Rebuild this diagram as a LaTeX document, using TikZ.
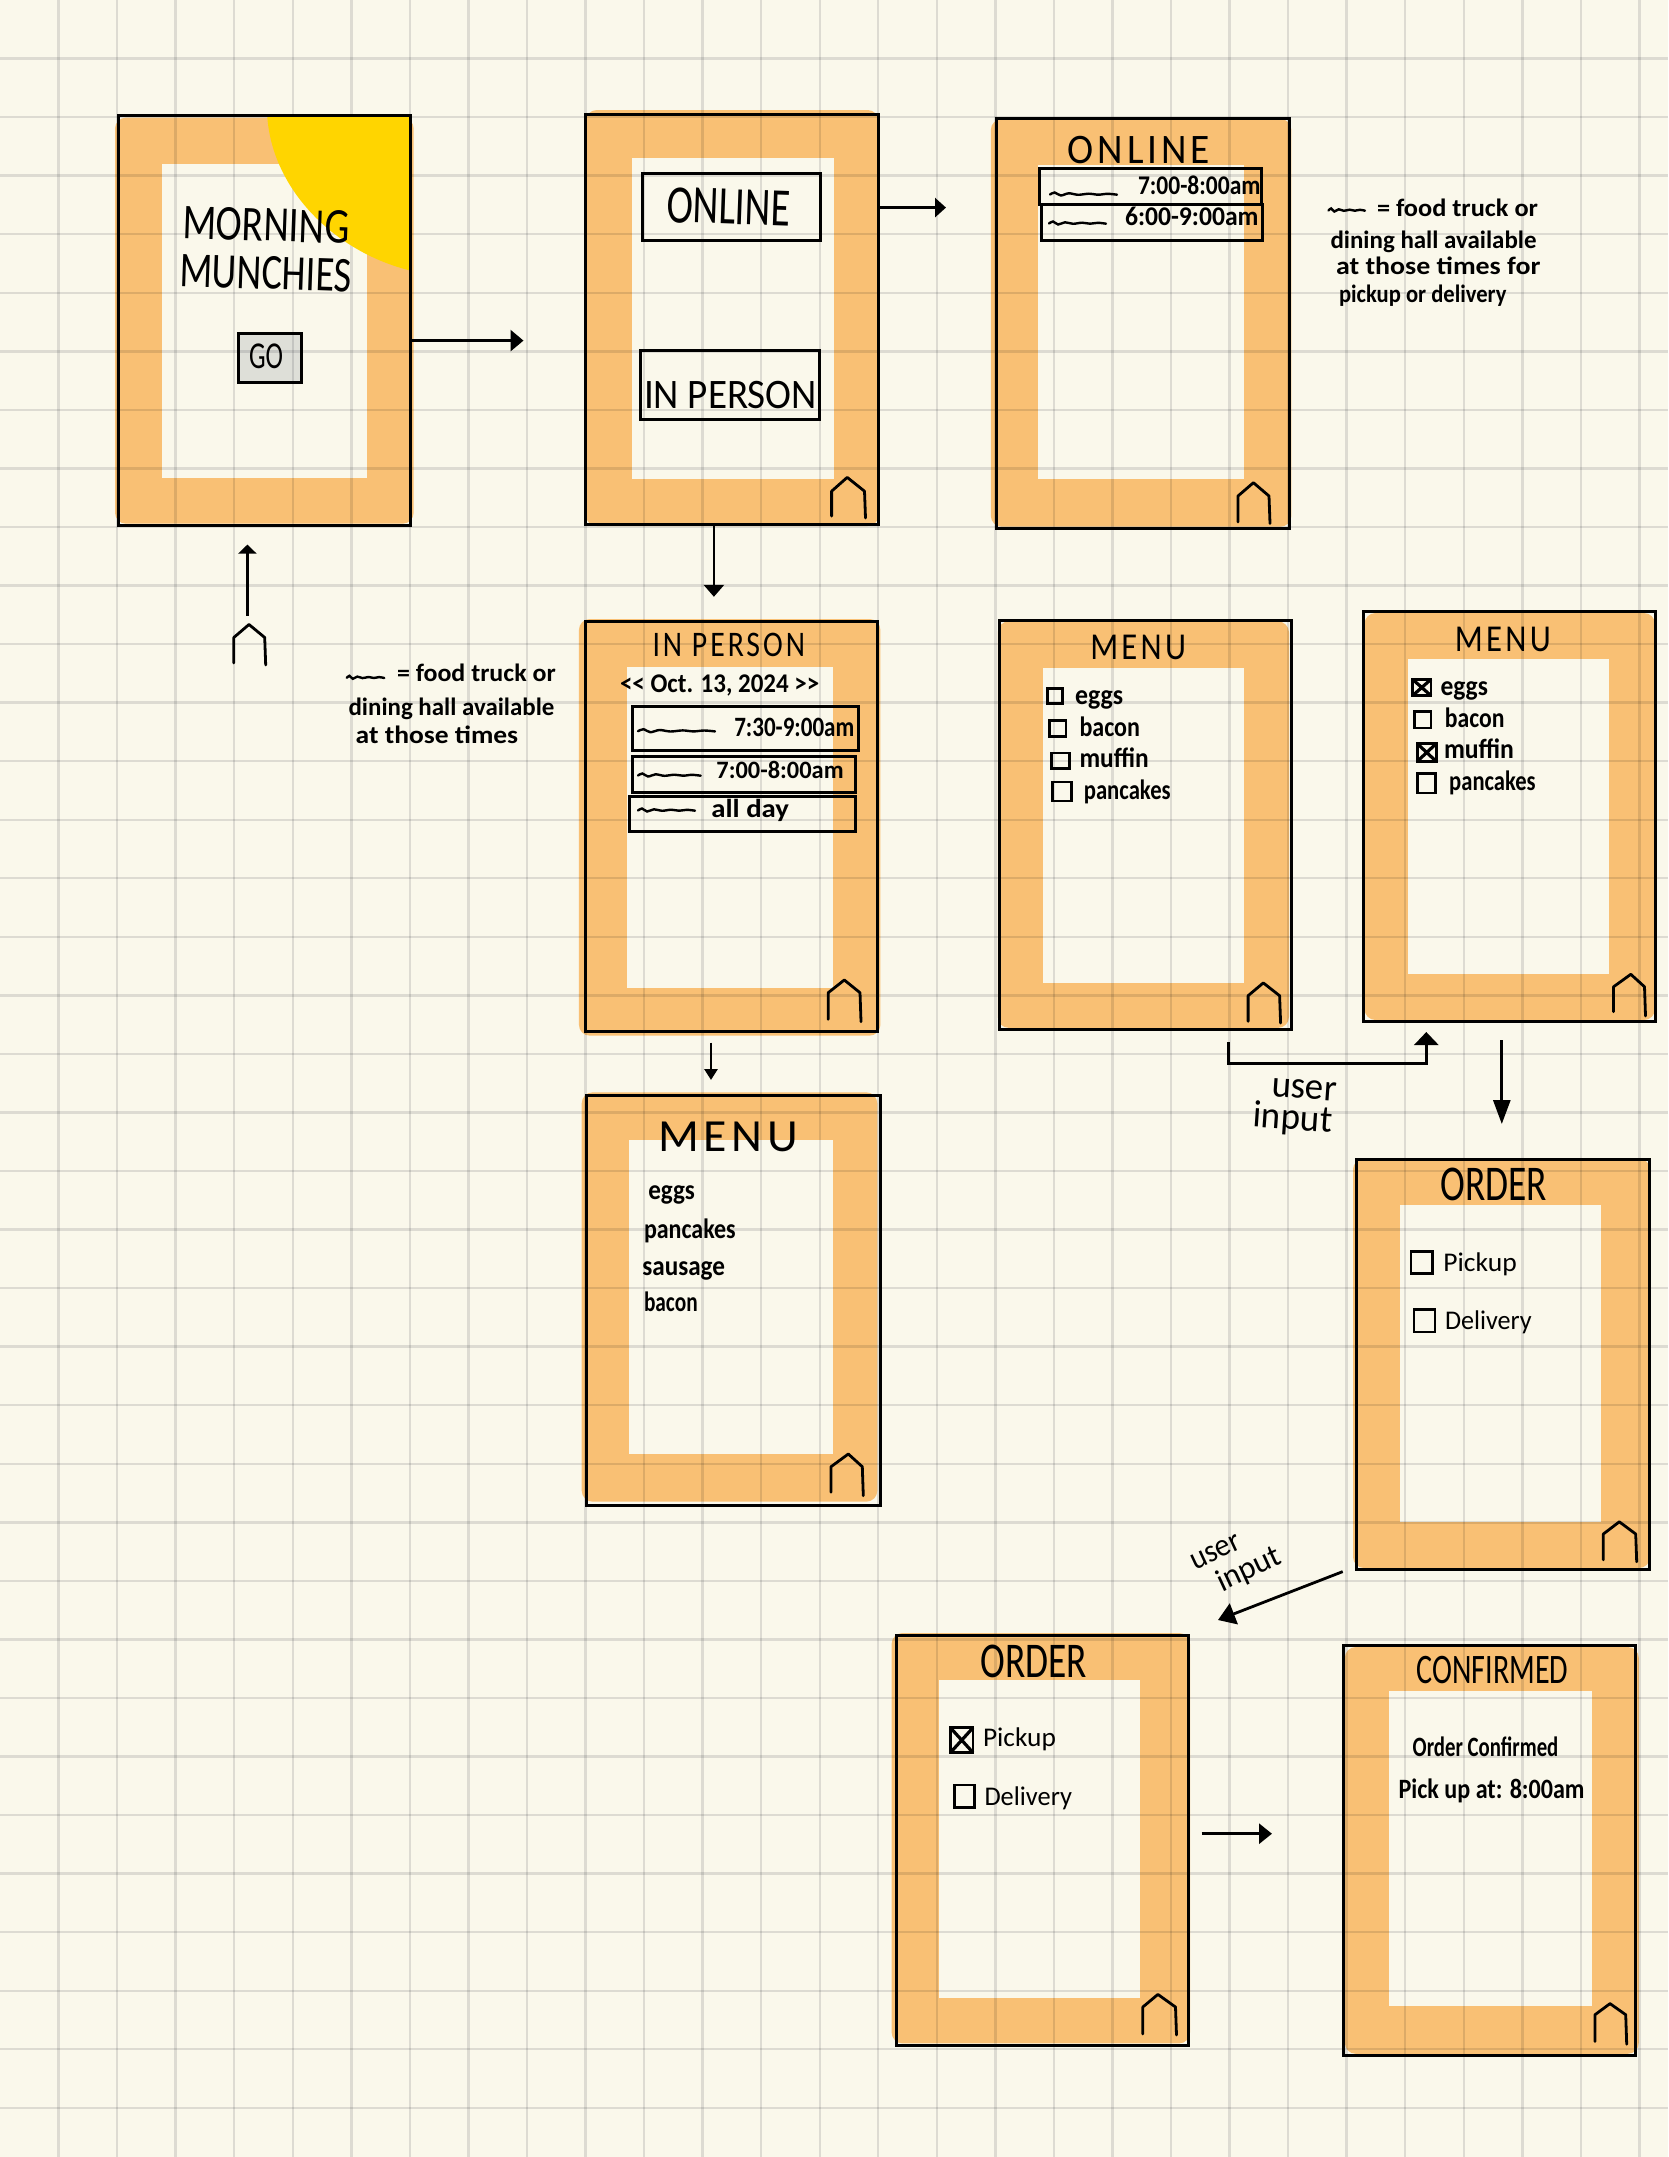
\documentclass[tikz,border=0pt]{standalone}
\usepackage{fontspec}
\usepackage{graphicx}
\setmainfont{Carlito}
\usetikzlibrary{arrows.meta,calc}
\definecolor{paper}{HTML}{FAF8EB}
\definecolor{tan}{HTML}{F9C074}
\definecolor{sun}{HTML}{FFD500}
\definecolor{rule}{HTML}{E2E2E4}
\definecolor{gobox}{HTML}{DEDFD8}
\tikzset{
  frame/.style={draw=black,line width=3pt,inner sep=0pt,outer sep=0pt,fill=none},
  chk/.style={draw=black,line width=2.8pt,inner sep=0pt,outer sep=0pt,fill=none},
  hand/.style={inner sep=0pt,outer sep=0pt,text=black,anchor=base west},
  arr/.style={draw=black,line width=2.8pt},
  homeline/.style={draw=black,line width=2.8pt,line join=round,line cap=round},
  squigline/.style={draw=black,line width=2.4pt,line cap=round},
  gridline/.style={draw=rule,line width=2.4pt}
}
% fill layer: #1-4 orange, #5-8 inner
\newcommand\shell[8]{%
  \fill[tan,rounded corners=11pt] (#1,#2) rectangle (#3,#4);
  \fill[paper] (#5,#6) rectangle (#7,#8);}
\newcommand\outlinebox[5]{%
  \pgfmathsetmacro\bw{#4-#2}\pgfmathsetmacro\bh{#5-#3}%
  \pgfmathsetmacro\cx{(#2+#4)/2}\pgfmathsetmacro\cy{(#3+#5)/2}%
  \node[frame,minimum width=\bw pt,minimum height=\bh pt] (#1) at (\cx,\cy) {};}
\newcommand\cbox[5]{%
  \pgfmathsetmacro\bw{#4-#2}\pgfmathsetmacro\bh{#5-#3}%
  \pgfmathsetmacro\cx{(#2+#4)/2}\pgfmathsetmacro\cy{(#3+#5)/2}%
  \node[chk,minimum width=\bw pt,minimum height=\bh pt] (#1) at (\cx,\cy) {};}
\newcommand\crossed[1]{\draw[line width=3.2pt] (#1.north west)--(#1.south east) (#1.north east)--(#1.south west);}
% \hw[rot]{name}{x1}{x2}{baseline}{size}{text}
\newcommand\hw[6][0]{%
  \pgfmathsetmacro\bw{#4-#3}%
  \hwnode{#1}{#2}{#3}{#5}{#6}}
\newcommand\hwnode[6]{%
  \node[hand,rotate=#1] (#2) at (#3,#4) {\resizebox{\bw pt}{\height}{\fontsize{#5}{#5}\selectfont #6}};}
\newcommand\homeicon[7]{\draw[homeline] (#1,#6)--(#1,#5)--(#2,#4)--(#3,#5)--(#3+1,#7);}
\newcommand\squig[3]{\draw[squigline,shift={(#1,#3)},xscale=#2-#1] plot[smooth] coordinates {(0,.5)(.07,-1.5)(.16,1.5)(.28,-.7)(.42,.8)(.58,-.3)(.72,.7)(.86,-.2)(1,.7)};}
\newcommand\ttl{\addfontfeature{LetterSpace=10}}
\begin{document}
\begin{tikzpicture}[x=1pt,y=-1pt]
\useasboundingbox (0,0) rectangle (1668,2157);
\fill[paper] (0,0) rectangle (1668,2157);

% ---------- fills ----------
\shell{115}{117.6}{413.7}{523.7}{162.1}{163.8}{367.1}{477.8}
\shell{585.8}{110}{878.6}{526}{632.3}{157.9}{833.7}{478.6}
\shell{990.8}{119}{1291.4}{526.7}{1038.3}{165}{1243.9}{479}
\shell{578.9}{619}{880.4}{1035.7}{627.1}{667.3}{832.9}{988}
\shell{997.8}{621.4}{1289}{1027.9}{1043.2}{667.9}{1243.8}{982.5}
\shell{1364.5}{613}{1655}{1020}{1408.1}{658.9}{1609.2}{973.9}
\shell{581.7}{1092.3}{877.3}{1501.7}{629.3}{1140}{833.3}{1454}
\shell{1353}{1158.6}{1650}{1568}{1399.7}{1205.1}{1601}{1521.8}
\shell{891.6}{1633}{1190}{2043.4}{938.8}{1680.3}{1140.3}{1997.5}
\shell{1344.8}{1647}{1638.8}{2053.8}{1389}{1691.4}{1592}{2005.6}
\fill[gobox] (238,333.9) rectangle (301.8,382.9);

% ---------- grid ----------
\begin{scope}[blend mode=multiply]
\foreach \k in {1,...,28} {\pgfmathsetmacro\p{58.55*\k}\draw[gridline] (\p,0)--(\p,2157);}
\foreach \k in {1,...,36} {\pgfmathsetmacro\p{58.55*\k}\draw[gridline] (0,\p)--(1668,\p);}
\end{scope}

% yellow corner
\fill[sun] (267.2,115.6) .. controls (272,190) and (335,252) .. (410.5,270.6) -- (410.5,115.6) -- cycle;

% ---------- screens ----------
\outlinebox{s1}{118.2}{115.6}{410.5}{525.6}
\outlinebox{s2}{585.8}{114}{878.6}{524}
\outlinebox{s3}{996.4}{118.3}{1289.4}{528.3}
\outlinebox{s4}{585}{621}{877.9}{1031}
\outlinebox{s5}{999}{620.4}{1291}{1029.6}
\outlinebox{s6}{1363.6}{611.8}{1655.9}{1021.4}
\outlinebox{s7}{586.7}{1095}{880}{1505}
\outlinebox{s8}{1356}{1159.8}{1649}{1569.2}
\outlinebox{s9}{896}{1635}{1188}{2045}
\outlinebox{s10}{1343.3}{1645.4}{1635.8}{2055.3}

% screen 1
\hw[-2]{t1a}{182}{349}{238}{50}{MORNING}
\hw[-2]{t1b}{179}{351}{286}{50}{MUNCHIES}
\outlinebox{go}{238}{333.9}{301.8}{382.9}
\hw{t1c}{249}{283}{368}{38}{GO}

% screen 2
\outlinebox{bon}{642.8}{173.7}{820.6}{240.1}
\hw[-2]{t2a}{666}{790}{222}{54}{ONLINE}
\outlinebox{bin}{640.7}{350}{819.5}{419.7}
\hw{t2b}{644}{817}{408}{42}{IN PERSON}
\homeicon{831.6}{847.2}{864.5}{477.4}{491.2}{516.1}{518}

% screen 3
\hw{t3}{1067.6}{1210}{163}{42}{\ttl ONLINE}
\outlinebox{b3a}{1039.9}{168.3}{1261.7}{204}
\outlinebox{b3b}{1041}{204}{1262.5}{240}
\squig{1050}{1117}{194}
\hw{t3a}{1138}{1260.5}{194}{27}{\bfseries 7:00-8:00am}
\squig{1049}{1106}{223}
\hw{t3b}{1125}{1258.5}{225}{27}{\bfseries 6:00-9:00am}
\homeicon{1238}{1253.4}{1269}{482.7}{496}{522}{523.5}

% note, online
\squig{1328.5}{1365}{210}
\hw{n1a}{1377}{1538}{216}{25}{\bfseries = food truck or}
\hw{n1b}{1330.5}{1536.5}{248}{25}{\bfseries dining hall available}
\hw{n1c}{1336}{1540.5}{274}{25}{\bfseries at those times for}
\hw{n1d}{1339}{1506.5}{302}{25}{\bfseries pickup or delivery}

% screen 4
\hw{t4}{652.5}{805}{656}{36}{\ttl IN PERSON}
\hw{t4d}{620}{819.3}{692}{27}{\bfseries <{}< Oct. 13, 2024 >{}>}
\outlinebox{b4a}{632}{706}{858.6}{750}
\outlinebox{b4b}{632}{756}{855.7}{792.7}
\outlinebox{b4c}{629}{796.7}{855.7}{831.7}
\squig{638}{715}{730.7}
\hw{t4a}{734.3}{854.3}{736}{28}{\bfseries 7:30-9:00am}
\squig{638}{700.7}{775}
\hw{t4b}{716.4}{843.6}{778}{25}{\bfseries 7:00-8:00am}
\squig{638}{695}{810}
\hw{t4c}{711.4}{789}{817}{26}{\bfseries all day}
\homeicon{828.2}{844.3}{860}{980}{992.7}{1019.3}{1021.7}

% note, in person
\squig{346.8}{384.3}{677.3}
\hw{n2a}{397}{555.7}{681}{25}{\bfseries = food truck or}
\hw{n2b}{348.6}{554.3}{715}{25}{\bfseries dining hall available}
\hw{n2c}{355.7}{518.2}{743}{25}{\bfseries at those times}

% screen 5 menu
\hw{t5}{1090.3}{1186}{659}{38}{\ttl MENU}
\cbox{c5a}{1047.5}{688.6}{1062.2}{703.6}
\hw{t5a}{1075.2}{1123.2}{704}{28}{\bfseries eggs}
\cbox{c5b}{1049.7}{720.4}{1066}{736.4}
\hw{t5b}{1079.5}{1140}{736}{28}{\bfseries bacon}
\cbox{c5c}{1051.8}{752.9}{1069.6}{768.6}
\hw{t5c}{1079.5}{1148.7}{767}{28}{\bfseries muffin}
\cbox{c5d}{1052.7}{782}{1071.3}{801}
\hw{t5d}{1083.8}{1170.7}{799}{28}{\bfseries pancakes}
\homeicon{1248.1}{1263.3}{1279.6}{982.9}{995.7}{1021.4}{1023}

% screen 6 menu checked
\hw{t6}{1454.8}{1550.8}{651}{38}{\ttl MENU}
\cbox{c6a}{1412.5}{679.3}{1431}{695.7}\crossed{c6a}
\hw{t6a}{1440.6}{1488}{695}{28}{\bfseries eggs}
\cbox{c6b}{1414.6}{711.8}{1431}{727.9}
\hw{t6b}{1444.9}{1504.5}{727.5}{28}{\bfseries bacon}
\cbox{c6c}{1417.2}{743.6}{1436.2}{761.4}\crossed{c6c}
\hw{t6c}{1444}{1514}{758.5}{28}{\bfseries muffin}
\cbox{c6d}{1417.2}{773.2}{1435.4}{792.9}
\hw{t6d}{1449.2}{1535.7}{790.8}{28}{\bfseries pancakes}
\homeicon{1613.5}{1630.8}{1644.5}{974.3}{986.8}{1011.8}{1016}

% screen 7 menu list
\hw{t7}{658.3}{798.3}{1151.7}{46}{\ttl MENU}
\hw{t7a}{648.3}{695}{1199}{28}{\bfseries eggs}
\hw{t7b}{644}{735.7}{1238.5}{28}{\bfseries pancakes}
\hw{t7c}{642.3}{725}{1275}{28}{\bfseries sausage}
\hw{t7d}{644}{697.7}{1311.5}{28}{\bfseries bacon}
\homeicon{831}{848.3}{862.3}{1454}{1466.7}{1492.3}{1495.7}

% screen 8 order
\hw{t8}{1440.7}{1547.3}{1200}{50}{ORDER}
\cbox{c8a}{1411}{1251.2}{1432.7}{1273.7}
\hw{t8a}{1443.3}{1516.7}{1271}{27}{Pickup}
\cbox{c8b}{1414}{1309.6}{1435}{1332}
\hw{t8b}{1445}{1531.7}{1329}{27}{Delivery}
\homeicon{1603.3}{1619.3}{1635.7}{1521.8}{1534}{1559.8}{1561.8}

% screen 9 order checked
\hw{t9}{980.5}{1087}{1677}{50}{ORDER}
\cbox{c9a}{950.4}{1727.7}{973}{1752.6}\crossed{c9a}
\hw{t9a}{983}{1055.9}{1746}{27}{Pickup}
\cbox{c9b}{954.4}{1785}{974.5}{1807.3}
\hw{t9b}{984.5}{1072}{1805}{27}{Delivery}
\homeicon{1142.8}{1157.9}{1175.5}{1994.4}{2007}{2033.9}{2035}

% screen 10 confirmed
\hw{t10}{1416.7}{1568.4}{1683}{42}{CONFIRMED}
\hw{t10a}{1412.7}{1558.4}{1756}{28}{\bfseries Order Confirmed}
\hw{t10b}{1398.6}{1584.5}{1798}{28}{\bfseries Pick up at: 8:00am}
\homeicon{1595}{1610}{1625.7}{2003.6}{2014.7}{2041.5}{2044.2}

% free-standing home icon
\homeicon{233.8}{249}{264.7}{624.5}{637.5}{663}{665}

% ---------- connectors ----------
\coordinate (e1) at (523.5,340.6);
\draw[arr,-{Triangle[length=13pt,width=21pt]}] (s1.east |- e1) -- (e1);
\coordinate (e2) at (946,207.6);
\draw[arr,-{Triangle[length=11pt,width=19pt]}] (s2.east |- e2) -- (e2);
\coordinate (st3) at (247.4,615.8);
\coordinate (e3) at (247.4,544.6);
\draw[arr,-{Triangle[length=9pt,width=18pt]}] (st3) -- (e3);
\coordinate (e4) at (713.9,596.8);
\draw[arr,-{Triangle[length=12pt,width=20pt]}] (s2.south -| e4) -- (e4);
\coordinate (st5) at (711,1042.7);
\coordinate (e5) at (711,1080);
\draw[arr,-{Triangle[length=11pt,width=13pt]}] (st5) -- (e5);
% elbow with user input
\coordinate (st6) at (1228.3,1042.1);
\coordinate (m6a) at (1228.3,1063.6);
\coordinate (m6b) at (1426.3,1063.6);
\coordinate (e6) at (1426.3,1032);
\draw[arr,-{Triangle[length=13pt,width=24pt]}] (st6) -- (m6a) -- (m6b) -- (e6);
\hw[-4]{u1}{1271}{1336}{1096.4}{38}{user}
\hw[-4]{u2}{1252.5}{1331.6}{1126.8}{38}{input}
\coordinate (st7) at (1501.8,1040);
\coordinate (e7) at (1501.8,1124);
\draw[arr,-{Triangle[length=24pt,width=17pt]}] (st7) -- (e7);
\coordinate (st8) at (1342.7,1571.6);
\coordinate (e8) at (1218,1620);
\draw[arr,-{Triangle[length=17pt,width=22pt]}] (st8) -- (e8);
\hw[25]{u3}{1195}{1248}{1570}{32}{user}
\hw[25]{u4}{1222}{1290}{1592}{32}{input}
\coordinate (st9) at (1201.6,1833.7);
\coordinate (e9) at (1272,1833.7);
\draw[arr,-{Triangle[length=13pt,width=20pt]}] (st9) -- (e9);
\end{tikzpicture}
\end{document}
